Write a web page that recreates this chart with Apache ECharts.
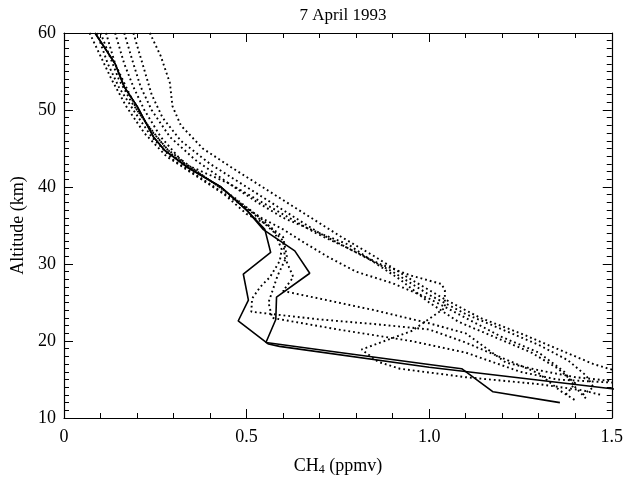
<!DOCTYPE html>
<html>
<head>
<meta charset="utf-8">
<script src="https://cdn.jsdelivr.net/npm/echarts@6/dist/echarts.min.js"></script>
<style>
  html, body { margin: 0; padding: 0; background: #fff; }
  #chart { width: 626px; height: 481px; }
</style>
</head>
<body>
<div id="chart"></div>
<script>
  // 7 April 1993 CH4 profiles, [ppmv, km]
  var solidA = [[0.085,60],[0.14,56],[0.165,53],[0.2,50.5],[0.245,46.5],[0.275,44.8],[0.34,42.5],[0.43,40],[0.5,37],[0.55,34.5],
                [0.566,31.5],[0.491,28.7],[0.505,25.3],[0.477,22.6],[0.56,19.6],[0.59,19.3],[1.0,16.6],[1.5,13.8],[1.6,13.3]];
  var solidB = [[0.085,60],[0.14,56],[0.165,53],[0.2,50.5],[0.245,46.5],[0.275,44.8],[0.34,42.5],[0.43,40],[0.5,37],[0.545,34.5],
                [0.632,31.7],[0.673,28.8],[0.582,25.7],[0.58,22.8],[0.553,19.8],[0.755,18.5],[1.0,16.95],[1.089,16.4],[1.175,13.4],[1.358,12.0]];

  var dotted1 = [[0.235,60],[0.265,57],[0.29,53.5],[0.297,50.5],[0.32,48],[0.38,45],[0.46,42.5],[0.56,39.5],[0.66,36.5],[0.76,33.5],
                 [0.85,31],[0.95,28],[1.04,25.5],[1.14,23],[1.25,21],[1.36,18.8],[1.45,17],[1.52,16]];
  var dotted2 = [[0.19,60],[0.215,56],[0.24,52],[0.27,49],[0.32,46],[0.4,43],[0.5,40],[0.6,37],[0.7,34],[0.8,31.5],[0.9,29],
                 [1.0,26],[1.1,23.5],[1.2,21.5],[1.3,19.5],[1.38,17.5],[1.43,15.5],[1.45,14],[1.42,13]];
  var dotted3 = [[0.165,60],[0.19,56],[0.21,53],[0.24,50],[0.29,46.5],[0.36,43.5],[0.45,40.5],[0.53,38],[0.6,36],[0.7,34],
                 [0.78,32.5],[0.84,30.5],[0.92,28],[1.0,25],[1.08,22.5],[1.18,20.5],[1.28,18.5],[1.35,16.5],[1.4,14.5],[1.37,12.8]];
  var dotted4 = [[0.14,60],[0.165,56],[0.19,53],[0.22,50],[0.265,46.5],[0.33,43],[0.45,40.5],[0.58,37],[0.69,34],[0.78,32],
                 [0.865,30],[0.95,28.5],[1.034,27.4],[1.043,26.6],[1.043,24.3],[0.952,21.3],[0.815,18.9],[0.86,17.3],[0.92,16.4],
                 [1.1,15.3],[1.3,14.4],[1.42,13.6],[1.47,13]];
  var dotted5 = [[0.115,60],[0.14,56],[0.17,53],[0.2,50],[0.245,47],[0.3,44],[0.38,41.5],[0.47,38.5],[0.55,35.5],[0.6,33],
                 [0.605,30.8],[0.628,28.3],[0.6,26.5],[0.7,25.5],[0.85,24],[1.0,22.3],[1.1,21],[1.21,17.2],[1.3,16.2],[1.4,15.3],[1.5,14.8]];
  var dotted6 = [[0.1,60],[0.125,57],[0.15,54],[0.185,51],[0.23,48],[0.28,45],[0.35,42.5],[0.44,39.5],[0.52,36.5],[0.578,34],
                 [0.596,31.9],[0.591,30.4],[0.564,28.3],[0.537,27],[0.515,25.5],[0.513,23.8],[0.7,22.8],[0.85,22.2],[1.0,21.5],
                 [1.1,19.8],[1.21,17.6],[1.3,15.8],[1.36,13.5],[1.4,12.3]];
  var dotted7 = [[0.09,60],[0.12,56],[0.15,53],[0.19,50],[0.24,46.5],[0.3,43.5],[0.38,41],[0.46,38.5],[0.54,36],[0.6,34.5],
                 [0.65,33],[0.72,31],[0.8,29],[0.9,27.5],[1.0,25.5],[1.1,23],[1.2,20.5],[1.3,18.5],[1.37,16],[1.4,14],[1.43,12.5]];
  var dotted8 = [[0.07,60],[0.1,57],[0.13,54],[0.17,50.5],[0.22,47],[0.28,44],[0.36,41.5],[0.44,39],[0.5,36.5],[0.56,35],
                 [0.6,33.5],[0.61,31],[0.585,28.5],[0.56,25],[0.57,23],[0.75,21.5],[0.95,20],[1.1,18.5],[1.25,16],[1.35,15],[1.5,14.6]];

  var dottedSets = [dotted1, dotted2, dotted3, dotted4, dotted5, dotted6, dotted7, dotted8];
  var solidSets = [solidA, solidB];

  var serif = 'Liberation Serif';
  var chart = echarts.init(document.getElementById('chart'));

  var series = [];
  dottedSets.forEach(function (d) {
    series.push({ type: 'line', data: d, showSymbol: false, symbol: 'none', clip: true,
      lineStyle: { color: '#000', width: 1.9, type: [1.8, 3] } });
  });
  solidSets.forEach(function (d) {
    series.push({ type: 'line', data: d, showSymbol: false, symbol: 'none', clip: true,
      lineStyle: { color: '#000', width: 1.6 } });
  });

  function axisX(pos, showLabel) {
    return {
      type: 'value', position: pos, min: 0, max: 1.5, interval: 0.5,
      axisLine: { show: true, onZero: false, lineStyle: { color: '#000', width: 1.2 } },
      axisTick: { show: true, inside: true, length: 9, lineStyle: { color: '#000' } },
      minorTick: { show: true, splitNumber: 5, length: 5, lineStyle: { color: '#000' } },
      splitLine: { show: false },
      axisLabel: { show: showLabel, color: '#000', fontFamily: serif, fontSize: 18, margin: 10,
        formatter: function (v) { return v === 0 ? '0' : v.toFixed(1); } },
      name: showLabel ? '{a|CH}{s|4}{a| (ppmv)}' : '',
      nameLocation: 'middle', nameGap: 38,
      nameTextStyle: { rich: {
        a: { fontFamily: serif, fontSize: 18, color: '#000' },
        s: { fontFamily: serif, fontSize: 12, color: '#000', verticalAlign: 'bottom', padding: [8, 0, 0, 0] } } }
    };
  }
  function axisY(pos, showLabel) {
    return {
      type: 'value', position: pos, min: 10, max: 60, interval: 10,
      axisLine: { show: true, onZero: false, lineStyle: { color: '#000', width: 1.2 } },
      axisTick: { show: true, inside: true, length: 9, lineStyle: { color: '#000' } },
      minorTick: { show: true, splitNumber: 10, length: 5, lineStyle: { color: '#000' } },
      splitLine: { show: false },
      axisLabel: { show: showLabel, color: '#000', fontFamily: serif, fontSize: 18, margin: 8 },
      name: showLabel ? 'Altitude (km)' : '',
      nameLocation: 'middle', nameGap: 34, nameRotate: 90,
      nameTextStyle: { fontFamily: serif, fontSize: 18, color: '#000' }
    };
  }

  chart.setOption({
    animation: false,
    backgroundColor: '#fff',
    title: { text: '7 April 1993', left: 338, top: 2, textAlign: 'center',
      textStyle: { fontFamily: serif, fontSize: 17, fontWeight: 'normal', color: '#000' } },
    grid: { left: 64, right: 14, top: 33, bottom: 56 },
    xAxis: [axisX('bottom', true), axisX('top', false)],
    yAxis: [axisY('left', true), axisY('right', false)],
    series: series
  });
</script>
</body>
</html>
